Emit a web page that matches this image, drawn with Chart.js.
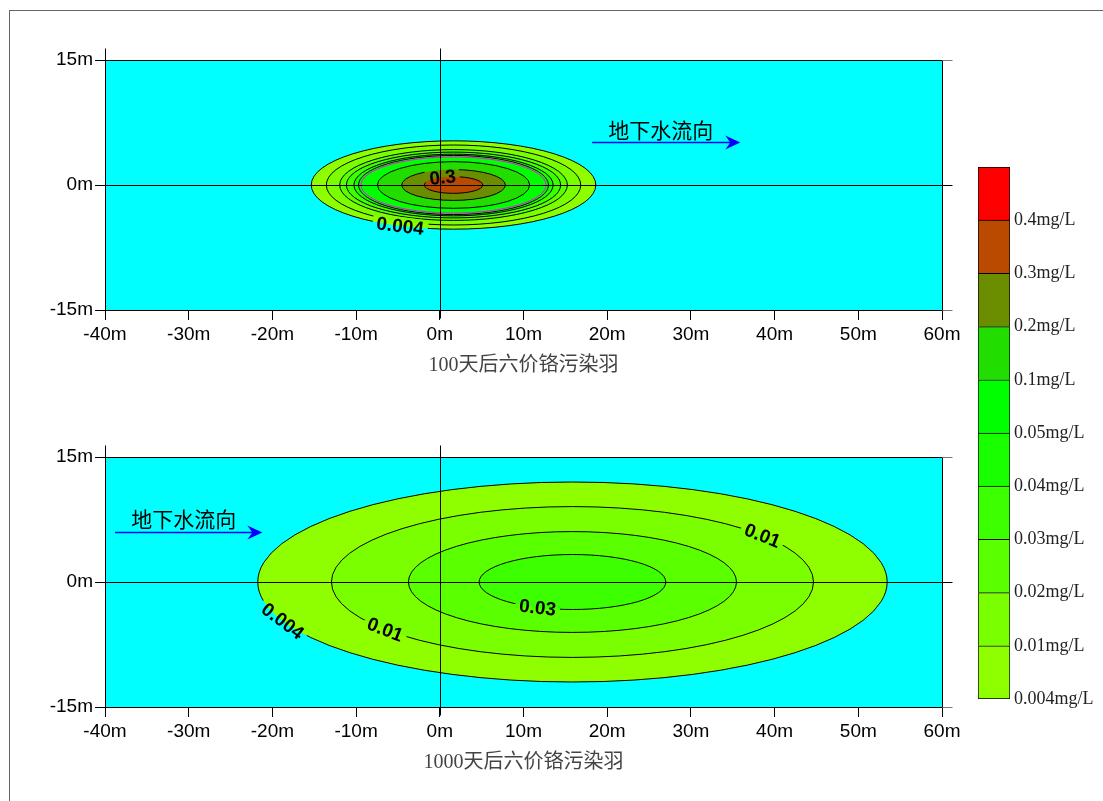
<!DOCTYPE html>
<html>
<head>
<meta charset="utf-8">
<script src="https://cdn.jsdelivr.net/npm/chart.js@4.4.1/dist/chart.umd.min.js"></script>
<style>
  body { margin: 0; background: #fff; width: 1103px; height: 801px; overflow: hidden; position: relative; }
  #frame { position: absolute; left: 9px; top: 10px; width: 1094px; height: 791px; border-top: 1px solid #666; border-left: 1px solid #666; }
  canvas { position: absolute; }
</style>
</head>
<body>
<div id="frame"></div>
<canvas id="plot100" width="967" height="390" style="left:0;top:0"></canvas>
<canvas id="plot1000" width="967" height="390" style="left:0;top:397px"></canvas>
<canvas id="colorbar" width="143" height="580" style="left:960px;top:140px"></canvas>
<script>
// colour scale (concentration bands, lower bound of each band)
const levels = [0.004, 0.01, 0.02, 0.03, 0.04, 0.05, 0.1, 0.2, 0.3, 0.4];
const levelColors = ['#8fff00', '#7aff00', '#5aff00', '#3cff00', '#1aff00', '#00ff00', '#22dd00', '#6b8e00', '#b94a00', '#ff0000'];
const levelLabels = ['0.004mg/L', '0.01mg/L', '0.02mg/L', '0.03mg/L', '0.04mg/L', '0.05mg/L', '0.1mg/L', '0.2mg/L', '0.3mg/L', '0.4mg/L'];

// plume after 100 days: contour level, half length (m), half width (m)
const plume100Center = [1.64, 0];
const plume100Levels = [0.004, 0.01, 0.02, 0.03, 0.04, 0.05, 0.1, 0.2, 0.3];
const plume100RadiusX = [17.0, 15.2, 13.6, 12.8, 11.9, 11.35, 9.1, 6.2, 3.5];
const plume100RadiusY = [5.3, 4.8, 4.25, 3.95, 3.7, 3.55, 2.8, 1.85, 1.0];
const plume100LabelLevels = [0.004, 0.3];
const plume100LabelAngles = [-112, 112];
const flow100 = [18.2, 35.9, 5.2, 26.4, 6.6]; // arrow from x, to x, y, text x, text y

// plume after 1000 days
const plume1000Center = [15.85, 0];
const plume1000Levels = [0.004, 0.01, 0.02, 0.03];
const plume1000RadiusX = [37.6, 28.8, 19.6, 11.15];
const plume1000RadiusY = [12.0, 9.05, 6.05, 3.3];
const plume1000LabelLevels = [0.004, 0.01, 0.03, 0.01];
const plume1000LabelAngles = [-157, -141, -112, 38];
const flow1000 = [-38.8, -21.2, 5.95, -30.6, 7.5];

const xTickValues = [-40, -30, -20, -10, 0, 10, 20, 30, 40, 50, 60];
const yTickValues = [-15, 0, 15];

const tickFont = { family: 'Liberation Sans, Arial, sans-serif', size: 19 };
const titleFont = { family: '"Liberation Serif", "Noto Sans CJK SC", serif', size: 20 };

function contourPlugin(p) {
  return {
    id: 'contours',
    beforeDraw(chart) {
      const { ctx, chartArea: a, scales: { x, y } } = chart;
      const cx = x.getPixelForValue(p.center[0]);
      const cy = y.getPixelForValue(p.center[1]);
      const rxPx = i => x.getPixelForValue(p.center[0] + p.rx[i]) - cx;
      const ryPx = i => cy - y.getPixelForValue(p.center[1] + p.ry[i]);
      ctx.save();
      ctx.fillStyle = '#00ffff';
      ctx.fillRect(a.left, a.top, a.width, a.height);
      ctx.beginPath();
      ctx.rect(a.left, a.top, a.width, a.height);
      ctx.clip();
      // filled bands
      p.levels.forEach((lv, i) => {
        ctx.beginPath();
        ctx.ellipse(cx, cy, rxPx(i), ryPx(i), 0, 0, Math.PI * 2);
        ctx.fillStyle = levelColors[levels.indexOf(lv)];
        ctx.fill();
      });
      // label placement
      ctx.font = 'bold 19px "Liberation Sans", Arial, sans-serif';
      const labels = p.labelLevels.map((lv, k) => {
        const i = p.levels.indexOf(lv);
        const t = p.labelAngles[k] * Math.PI / 180;
        const rx = rxPx(i), ry = ryPx(i);
        const px = cx + rx * Math.cos(t), py = cy - ry * Math.sin(t);
        let ang = Math.atan2(-ry * Math.cos(t), -rx * Math.sin(t));
        if (ang > Math.PI / 2) ang -= Math.PI;
        if (ang < -Math.PI / 2) ang += Math.PI;
        const text = String(lv);
        return { px, py, ang, text, w: ctx.measureText(text).width + 8, h: 18 };
      });
      // contour lines with gaps under labels
      ctx.save();
      ctx.beginPath();
      ctx.rect(a.left, a.top, a.width, a.height);
      labels.forEach(l => {
        const c = Math.cos(l.ang), s = Math.sin(l.ang);
        const pts = [[-l.w / 2, -l.h / 2], [l.w / 2, -l.h / 2], [l.w / 2, l.h / 2], [-l.w / 2, l.h / 2]];
        pts.forEach(([u, v], j) => {
          const X = l.px + u * c - v * s, Y = l.py + u * s + v * c;
          j ? ctx.lineTo(X, Y) : ctx.moveTo(X, Y);
        });
        ctx.closePath();
      });
      ctx.clip('evenodd');
      ctx.strokeStyle = '#000';
      ctx.lineWidth = 1;
      p.levels.forEach((lv, i) => {
        ctx.beginPath();
        ctx.ellipse(cx, cy, rxPx(i), ryPx(i), 0, 0, Math.PI * 2);
        ctx.stroke();
      });
      if (p.limitLevel !== undefined) {
        const i = p.levels.indexOf(p.limitLevel);
        ctx.strokeStyle = '#ff00ff';
        ctx.beginPath();
        ctx.ellipse(cx, cy, rxPx(i) - 2.5, ryPx(i) - 1.5, 0, 0, Math.PI * 2);
        ctx.stroke();
      }
      ctx.restore();
      // label text
      ctx.fillStyle = '#000';
      ctx.textAlign = 'center';
      ctx.textBaseline = 'middle';
      labels.forEach(l => {
        ctx.save();
        ctx.translate(l.px, l.py);
        ctx.rotate(l.ang);
        ctx.fillText(l.text, 0, 1);
        ctx.restore();
      });
      // groundwater flow arrow
      const [fx0, fx1, fy, tx, ty] = p.flow;
      const ax0 = x.getPixelForValue(fx0), ax1 = x.getPixelForValue(fx1), ay = Math.round(y.getPixelForValue(fy)) + 0.5;
      ctx.strokeStyle = '#0000ff';
      ctx.fillStyle = '#0000ff';
      ctx.lineWidth = 1.3;
      ctx.beginPath();
      ctx.moveTo(ax0, ay);
      ctx.lineTo(ax1 - 6, ay);
      ctx.stroke();
      ctx.beginPath();
      ctx.moveTo(ax1, ay);
      ctx.lineTo(ax1 - 15, ay - 7);
      ctx.lineTo(ax1 - 10, ay);
      ctx.lineTo(ax1 - 15, ay + 7);
      ctx.closePath();
      ctx.fill();
      ctx.fillStyle = '#000';
      ctx.font = '21px "Noto Sans CJK SC", sans-serif';
      ctx.textAlign = 'center';
      ctx.textBaseline = 'middle';
      ctx.fillText('地下水流向', x.getPixelForValue(tx), y.getPixelForValue(ty));
      ctx.restore();
    },
    afterDraw(chart) {
      const { ctx, chartArea: a, scales: { x, y } } = chart;
      const L = Math.round(a.left) + 0.5, R = Math.round(a.right) + 0.5;
      const T = Math.round(a.top) + 0.5, B = Math.round(a.bottom) + 0.5;
      const x0 = Math.round(x.getPixelForValue(0)) + 0.5;
      const y0 = Math.round(y.getPixelForValue(0)) + 0.5;
      ctx.save();
      ctx.lineWidth = 1;
      ctx.strokeStyle = '#000';
      ctx.beginPath();
      ctx.moveTo(L, T); ctx.lineTo(R, T);
      ctx.moveTo(R, T); ctx.lineTo(R, B);
      ctx.moveTo(x0, T - 12); ctx.lineTo(x0, B + 8);
      ctx.moveTo(L, y0); ctx.lineTo(R + 10, y0);
      ctx.moveTo(L, T - 12); ctx.lineTo(L, T);
      ctx.stroke();
      ctx.strokeStyle = '#777';
      ctx.beginPath();
      ctx.moveTo(R, T); ctx.lineTo(R + 10, T);
      ctx.moveTo(R, B); ctx.lineTo(R + 10, B);
      ctx.stroke();
      ctx.restore();
    }
  };
}

function makePlot(id, title, p) {
  return new Chart(document.getElementById(id), {
    type: 'scatter',
    data: { datasets: [] },
    options: {
      responsive: false,
      animation: false,
      events: [],
      layout: { padding: { top: 60, right: 25, bottom: 0, left: 0 } },
      plugins: { legend: { display: false }, tooltip: { enabled: false } },
      scales: {
        x: {
          type: 'linear', min: -40, max: 60,
          afterBuildTicks: s => { s.ticks = xTickValues.map(v => ({ value: v })); },
          ticks: { callback: v => v + 'm', font: tickFont, color: '#000', padding: 3, maxRotation: 0, autoSkip: false },
          grid: { drawOnChartArea: false, tickLength: 10, color: '#000' },
          border: { color: '#000', width: 1 },
          title: { display: true, text: title, font: titleFont, color: '#444', padding: { top: 0, bottom: 12 } },
          afterFit: s => { s.height = 80; }
        },
        y: {
          type: 'linear', min: -15, max: 15,
          afterBuildTicks: s => { s.ticks = yTickValues.map(v => ({ value: v })); },
          ticks: { callback: v => v + 'm', font: tickFont, color: '#000', padding: 2 },
          grid: { drawOnChartArea: false, tickLength: 10, color: '#000' },
          border: { color: '#000', width: 1 },
          afterFit: s => { s.width = 105; }
        }
      }
    },
    plugins: [contourPlugin(p)]
  });
}

makePlot('plot100', '100天后六价铬污染羽', {
  center: plume100Center, levels: plume100Levels, rx: plume100RadiusX, ry: plume100RadiusY,
  labelLevels: plume100LabelLevels, labelAngles: plume100LabelAngles, flow: flow100, limitLevel: 0.05
});
makePlot('plot1000', '1000天后六价铬污染羽', {
  center: plume1000Center, levels: plume1000Levels, rx: plume1000RadiusX, ry: plume1000RadiusY,
  labelLevels: plume1000LabelLevels, labelAngles: plume1000LabelAngles, flow: flow1000
});

// colour bar: one stacked segment per band
new Chart(document.getElementById('colorbar'), {
  type: 'bar',
  data: {
    labels: [''],
    datasets: levelColors.map((c, i) => ({
      data: [1],
      backgroundColor: c,
      borderColor: '#000',
      borderWidth: { top: 1, left: 1, right: 1, bottom: i === 0 ? 1 : 0 },
      borderSkipped: false,
      barPercentage: 1,
      categoryPercentage: 1
    }))
  },
  options: {
    responsive: false,
    animation: false,
    events: [],
    layout: { padding: { top: 27, bottom: 21, left: 18, right: 0 } },
    plugins: { legend: { display: false }, tooltip: { enabled: false } },
    scales: {
      x: { display: false, stacked: true },
      y: {
        stacked: true, position: 'right', min: 0, max: levelLabels.length,
        ticks: { stepSize: 1, autoSkip: false, padding: 4, color: '#222',
          font: { family: '"Liberation Serif", "Times New Roman", serif', size: 18 },
          callback: v => levelLabels[v] || '' },
        grid: { display: false, drawTicks: false },
        border: { display: false },
        afterFit: s => { s.width = 93; }
      }
    }
  }
});
</script>
</body>
</html>
